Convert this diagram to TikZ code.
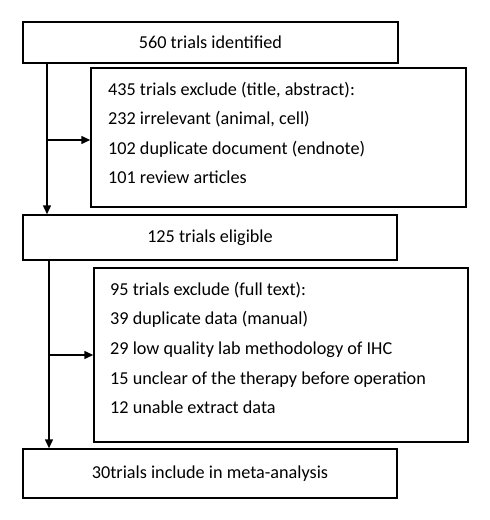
\documentclass[tikz,border=0pt]{standalone}
\usepackage{fontspec}
\setmainfont{Carlito}
\usetikzlibrary{arrows.meta}
\begin{document}
\begin{tikzpicture}[x=1pt,y=-1pt,
  box/.style={draw,line width=1.5pt,inner sep=0pt,font=\fontsize{18.2}{29.6}\selectfont},
  txt/.style={inner sep=0pt,anchor=base west,font=\fontsize{18.2}{29.6}\selectfont},
  arr/.style={line width=1.5pt,-{Triangle[length=9pt,width=8pt]}}]
\useasboundingbox (0,0) rectangle (490,520);
\node[box,minimum width=375,minimum height=41] (b1) at (210.5,42.5) {560 trials identified};
\node[box,minimum width=375,minimum height=139] (b2) at (278.5,137.5) {};
\node[txt] (t21) at (108,95) {435 trials exclude (title, abstract):};
\node[txt] (t22) at (108,124.5) {232 irrelevant (animal, cell)};
\node[txt] (t23) at (108,154) {102 duplicate document (endnote)};
\node[txt] (t24) at (108,183.5) {101 review articles};
\node[box,minimum width=374,minimum height=45] (b3) at (210,237.5) {125 trials eligible};
\node[box,minimum width=374,minimum height=174] (b4) at (281,355) {};
\node[txt] (t41) at (110,295) {95 trials exclude (full text):};
\node[txt] (t42) at (110,324.7) {39 duplicate data (manual)};
\node[txt] (t43) at (110,354.4) {29 low quality lab methodology of IHC};
\node[txt] (t44) at (110,384.1) {15 unclear of the therapy before operation};
\node[txt] (t45) at (110,413.8) {12 unable extract data};
\node[box,minimum width=374,minimum height=49] (b5) at (210,473.5) {30trials include in meta-analysis};
\coordinate (v1) at (47,140);
\coordinate (v2) at (49,355);
\draw[arr] (b1.south -| v1) -- (b3.north -| v1);
\draw[arr] (v1) -- (v1 -| b2.west);
\draw[arr] (b3.south -| v2) -- (b5.north -| v2);
\draw[arr] (v2) -- (v2 -| b4.west);
\end{tikzpicture}
\end{document}
